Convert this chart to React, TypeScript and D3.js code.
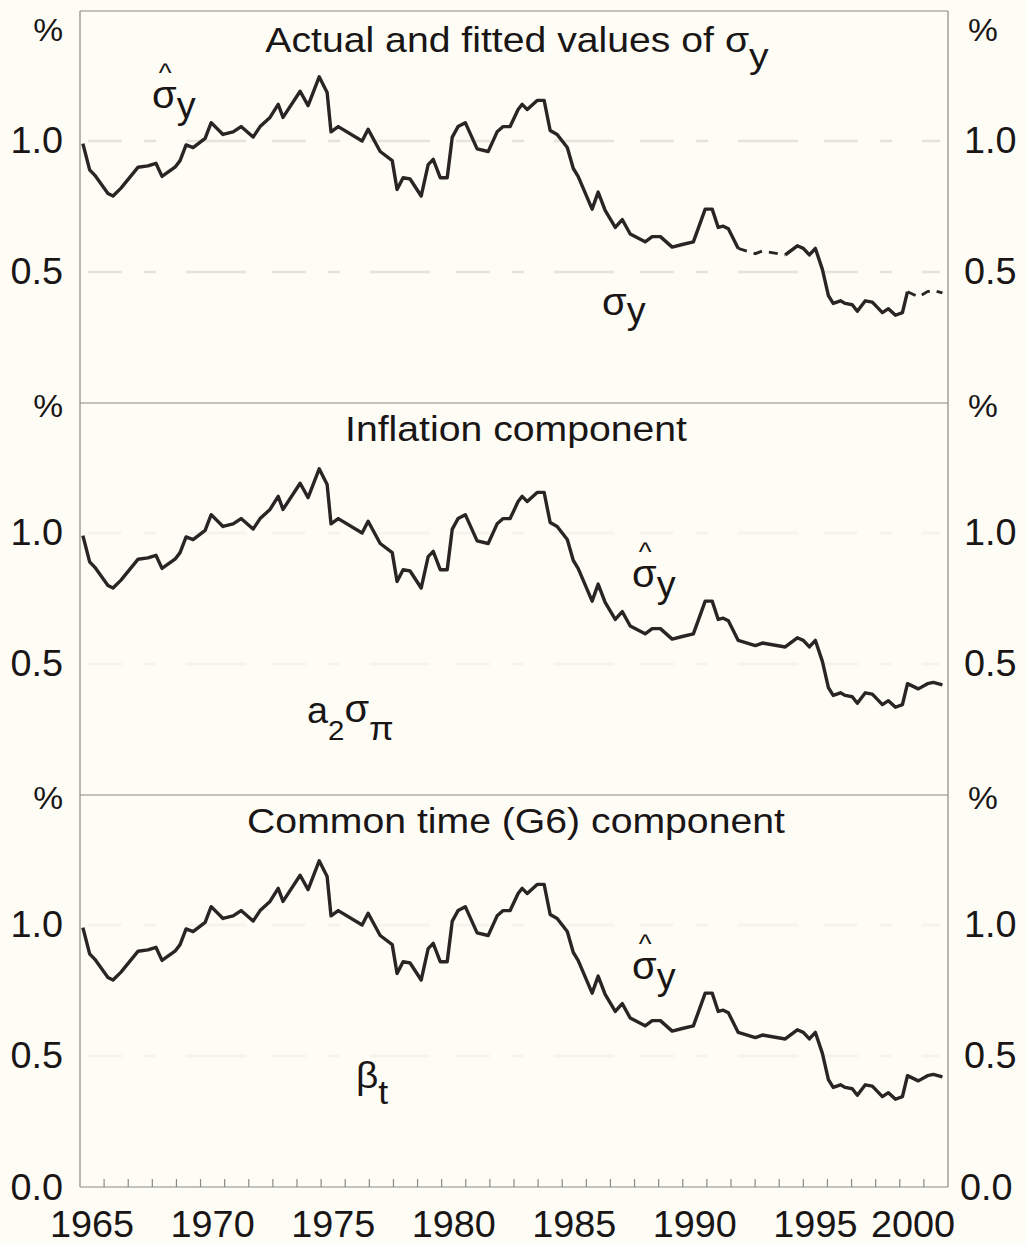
import * as d3 from "d3";

// fitted sigma_y (decimal year, %)
const dates = [
  1965.12, 1965.4, 1965.61, 1966.16, 1966.37, 1966.7, 1967.41, 1967.82, 1968.15, 1968.4, 1968.94,
  1969.15, 1969.4, 1969.69, 1970.19, 1970.44, 1970.93, 1971.35, 1971.68, 1972.18, 1972.47, 1972.88,
  1973.22, 1973.42, 1974.13, 1974.46, 1974.92, 1975.25, 1975.41, 1975.71, 1976.7, 1976.95, 1977.45,
  1977.95, 1978.15, 1978.4, 1978.69, 1979.15, 1979.44, 1979.65, 1979.94, 1980.23, 1980.44, 1980.68,
  1980.98, 1981.47, 1981.93, 1982.3, 1982.55, 1982.84, 1983.17, 1983.34, 1983.55, 1983.96, 1984.25,
  1984.5, 1984.79, 1985.21, 1985.46, 1985.66, 1986.24, 1986.49, 1986.78, 1987.2, 1987.49, 1987.82,
  1988.44, 1988.73, 1989.07, 1989.56, 1989.98, 1990.44, 1990.93, 1991.22, 1991.47, 1991.68, 1991.89,
  1992.3, 1993.01, 1993.3, 1994.25, 1994.75, 1995.0, 1995.25, 1995.5, 1995.79, 1996.04, 1996.24,
  1996.54, 1996.74, 1997.03, 1997.24, 1997.57, 1997.86, 1998.28, 1998.53, 1998.82, 1999.11, 1999.32,
  1999.77, 2000.15, 2000.39, 2000.77,
];
const sigmaHat = [
  0.99, 0.89, 0.87, 0.8, 0.79, 0.82, 0.9, 0.905, 0.915, 0.865, 0.9,
  0.925, 0.985, 0.975, 1.01, 1.07, 1.025, 1.035, 1.055, 1.015, 1.055, 1.09,
  1.14, 1.09, 1.19, 1.135, 1.245, 1.185, 1.035, 1.055, 1.0, 1.045, 0.96,
  0.925, 0.815, 0.86, 0.855, 0.79, 0.91, 0.93, 0.86, 0.86, 1.015, 1.055,
  1.07, 0.97, 0.96, 1.035, 1.055, 1.055, 1.12, 1.14, 1.12, 1.155, 1.155,
  1.04, 1.025, 0.975, 0.895, 0.865, 0.74, 0.805, 0.735, 0.67, 0.7, 0.645,
  0.615, 0.635, 0.635, 0.595, 0.605, 0.615, 0.74, 0.74, 0.67, 0.675, 0.665,
  0.59, 0.57, 0.58, 0.565, 0.6, 0.59, 0.565, 0.59, 0.51, 0.41, 0.38,
  0.39, 0.38, 0.375, 0.35, 0.39, 0.385, 0.345, 0.36, 0.335, 0.345, 0.425,
  0.405, 0.425, 0.43, 0.42,
];

const panelTitles = ["Actual and fitted values of σ", "Inflation component", "Common time (G6) component"];
const valueTicks = [0.5, 1.0];
const yearLabels = [1965, 1970, 1975, 1980, 1985, 1990, 1995, 2000];
// stretches of the top panel that print as a broken line
const dashedSpans: [number, number][] = [[1992.3, 1994.25], [1999.32, 2001]];

const W = 1026;
const H = 1244;
const left = 80;
const right = 948;
const top = 11;
const panelH = 392;
const FONT = "'Liberation Sans', Arial, Helvetica, sans-serif";
const INK = "#2b2424";

const x = d3.scaleLinear().domain([1965, 2001]).range([left, right]);

function T({ x, y, size = 36, sx = 1.05, anchor = "start", children }: any) {
  return (
    <text
      transform={`translate(${x},${y}) scale(${sx},1)`}
      fontSize={size}
      fontFamily={FONT}
      textAnchor={anchor}
      fill="#1a1616"
    >
      {children}
    </text>
  );
}

function Panel({ index }: { index: number }) {
  const bottom = top + panelH * (index + 1);
  const y = d3.scaleLinear().domain([0, 1.5]).range([bottom, bottom - 393]);
  const inDash = (t: number) => dashedSpans.some(([a, b]) => t >= a && t <= b);
  const strictDash = (t: number) => dashedSpans.some(([a, b]) => t > a && t < b);

  const base = d3
    .line<number>()
    .x((_, i) => x(dates[i]))
    .y((d) => y(d));

  const solid = index === 0 ? base.defined((_, i) => !strictDash(dates[i]))(sigmaHat) : base(sigmaHat);
  const dashed =
    index === 0
      ? d3
          .line<number>()
          .x((_, i) => x(dates[i]))
          .y((d) => y(d))
          .defined((_, i) => inDash(dates[i]))(sigmaHat)
      : null;

  const grid = index === 0 ? "#e4e4db" : "#f4f4ec";

  return (
    <g>
      {valueTicks.map((v) => (
        <line
          key={v}
          x1={left + 8}
          x2={right - 8}
          y1={y(v)}
          y2={y(v)}
          stroke={grid}
          strokeWidth={2.5}
          strokeDasharray="34 22 12 30 60 26"
        />
      ))}
      <line x1={left} x2={right} y1={bottom - panelH} y2={bottom - panelH} stroke="#8a8a84" strokeWidth={1.2} />
      {valueTicks.map((v) => (
        <g key={v}>
          <T x={63} y={y(v) + 12} anchor="end">{v.toFixed(1)}</T>
          <T x={964} y={y(v) + 12}>{v.toFixed(1)}</T>
        </g>
      ))}
      <T x={63} y={[41, 417, 809][index]} size={32} anchor="end">%</T>
      <T x={968} y={[41, 417, 809][index]} size={32}>%</T>

      <path d={solid ?? ""} fill="none" stroke={INK} strokeWidth={3.4} strokeLinejoin="round" />
      {dashed && (
        <path d={dashed} fill="none" stroke={INK} strokeWidth={2.8} strokeDasharray="9 7" />
      )}

      {index === 0 && (
        <T x={517} y={52} size={35} sx={1.12} anchor="middle">
          {panelTitles[0]}
          <tspan dy={16}>y</tspan>
        </T>
      )}
      {index > 0 && (
        <T x={516} y={bottom - panelH + 38} size={35} sx={1.12} anchor="middle">
          {panelTitles[index]}
        </T>
      )}
    </g>
  );
}

// sigma with a hat above and subscript y, kept in one text element
function SigmaHat({ x, y }: { x: number; y: number }) {
  return (
    <T x={x} y={y} size={38}>
      σ
      <tspan dx={-17} dy={-26} fontSize={26}>^</tspan>
      <tspan dx={5} dy={36} fontSize={36}>y</tspan>
    </T>
  );
}

export default function App() {
  const bottom = top + panelH * 3;
  return (
    <svg
      width={W}
      height={H}
      style={{ position: "absolute", left: 0, top: 0, display: "block" }}
    >
      <rect width={W} height={H} fill="#fdfdf6" />
      {[0, 1, 2].map((i) => (
        <Panel key={i} index={i} />
      ))}

      {/* frame */}
      <line x1={left} x2={left} y1={top} y2={bottom} stroke="#8a8a84" strokeWidth={1.2} />
      <line x1={right} x2={right} y1={top} y2={bottom} stroke="#8a8a84" strokeWidth={1.2} />
      <line x1={left} x2={right} y1={bottom} y2={bottom} stroke="#8a8a84" strokeWidth={1.2} />
      {d3.range(1966, 2001).map((yr) => (
        <line key={yr} x1={x(yr)} x2={x(yr)} y1={bottom} y2={bottom - 8} stroke="#8a8a84" strokeWidth={1.2} />
      ))}
      <T x={63} y={bottom + 13} anchor="end">0.0</T>
      <T x={960} y={bottom + 13}>0.0</T>
      {yearLabels.map((yr) =>
        yr === 2000 ? (
          <T key={yr} x={955} y={1237} anchor="end">{yr}</T>
        ) : (
          <T key={yr} x={x(yr + 0.5)} y={1237} anchor="middle">{yr}</T>
        )
      )}

      {/* series labels */}
      <SigmaHat x={152} y={108} />
      <T x={602} y={315} size={38}>
        σ<tspan dy={8} fontSize={36}>y</tspan>
      </T>

      <SigmaHat x={632} y={587} />
      <T x={307} y={723} size={36}>
        a<tspan dy={17} fontSize={28}>2</tspan>
        <tspan dy={-18} fontSize={38}>σ</tspan>
        <tspan dy={18} fontSize={34}>π</tspan>
      </T>

      <SigmaHat x={632} y={979} />
      <T x={356} y={1088} size={37}>
        β<tspan dy={16} fontSize={34}>t</tspan>
      </T>
    </svg>
  );
}
